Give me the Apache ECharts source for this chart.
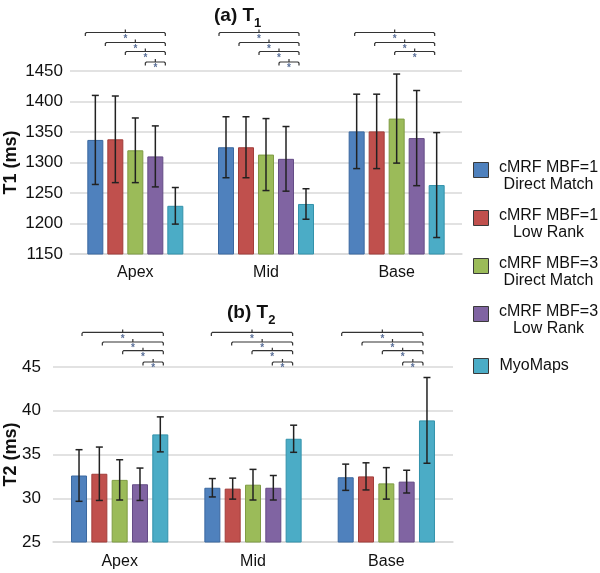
<!DOCTYPE html>
<html>
<head>
<meta charset="utf-8">
<script src="https://cdn.jsdelivr.net/npm/echarts@6/dist/echarts.min.js"></script>
<style>html,body{margin:0;padding:0;background:#fff}#c{width:600px;height:573px}</style>
</head>
<body>
<div id="c"></div>
<script>
// ---- data ----
const categories = ['Apex', 'Mid', 'Base'];
const seriesNames = ['cMRF MBF=1\nDirect Match', 'cMRF MBF=1\nLow Rank', 'cMRF MBF=3\nDirect Match', 'cMRF MBF=3\nLow Rank', 'MyoMaps'];
const t1Ticks = [1150, 1200, 1250, 1300, 1350, 1400, 1450];
const t2Ticks = [25, 30, 35, 40, 45];

const t1_mbf1_dm = [1337, 1325, 1351];
const t1_mbf1_lr = [1338, 1325, 1351];
const t1_mbf3_dm = [1320, 1313, 1372];
const t1_mbf3_lr = [1310, 1306, 1340];
const t1_myomaps = [1229, 1232, 1263];
const t1sd_mbf1_dm = [73, 50, 61];
const t1sd_mbf1_lr = [71, 50, 61];
const t1sd_mbf3_dm = [53, 59, 73];
const t1sd_mbf3_lr = [50, 53, 78];
const t1sd_myomaps = [30, 25, 86];

const t2_mbf1_dm = [32.6, 31.2, 32.4];
const t2_mbf1_lr = [32.8, 31.1, 32.5];
const t2_mbf3_dm = [32.1, 31.55, 31.7];
const t2_mbf3_lr = [31.6, 31.2, 31.9];
const t2_myomaps = [37.3, 36.8, 38.9];
const t2sd_mbf1_dm = [2.95, 1.05, 1.5];
const t2sd_mbf1_lr = [3.05, 1.2, 1.55];
const t2sd_mbf3_dm = [2.3, 1.75, 1.8];
const t2sd_mbf3_lr = [1.85, 1.4, 1.3];
const t2sd_myomaps = [2.0, 1.55, 4.9];

// significance comparisons: [categoryIndex, fromSeries, toSeries]
const t1Sig = [[0,0,4],[0,1,4],[0,2,4],[0,3,4],[1,0,4],[1,1,4],[1,2,4],[1,3,4],[2,0,4],[2,1,4],[2,2,4]];
const t2Sig = [[0,0,4],[0,1,4],[0,2,4],[0,3,4],[1,0,4],[1,1,4],[1,2,4],[1,3,4],[2,0,4],[2,1,4],[2,2,4],[2,3,4]];

// ---- styles ----
const FONT = '"Liberation Sans", Arial, sans-serif';
const fills = ['#4f81bd', '#c0504d', '#9bbb59', '#8064a2', '#4bacc6'];
const borders = ['#3a68a0', '#a23d3a', '#7f9c44', '#654c86', '#3392ab'];
const BW = 16;
const GAP = [0.25, 0.27];
const STEP = [BW * (1 + GAP[0]), BW * (1 + GAP[1])];
const bracketLevelY = [[-38.5, -28.5, -19.5, -9], [-34.6, -25, -16.3, -5]];
const bracketShift = [[-10, -7, -2], [3, -1, -4]];
const yMaxes = [1450, 45];

const means = [
  [t1_mbf1_dm, t1_mbf1_lr, t1_mbf3_dm, t1_mbf3_lr, t1_myomaps],
  [t2_mbf1_dm, t2_mbf1_lr, t2_mbf3_dm, t2_mbf3_lr, t2_myomaps]
];
const sds = [
  [t1sd_mbf1_dm, t1sd_mbf1_lr, t1sd_mbf3_dm, t1sd_mbf3_lr, t1sd_myomaps],
  [t2sd_mbf1_dm, t2sd_mbf1_lr, t2sd_mbf3_dm, t2sd_mbf3_lr, t2sd_myomaps]
];
const sigs = [t1Sig, t2Sig];

const series = [];
for (let g = 0; g < 2; g++) {
  for (let s = 0; s < 5; s++) {
    series.push({
      type: 'bar', name: seriesNames[s], xAxisIndex: g, yAxisIndex: g,
      data: means[g][s], barWidth: BW, barGap: (GAP[g] * 100) + '%',
      itemStyle: { color: fills[s], borderColor: borders[s], borderWidth: 1 },
      emphasis: { disabled: true }, silent: true
    });
  }
  const errData = [];
  for (let s = 0; s < 5; s++) {
    for (let c = 0; c < 3; c++) {
      errData.push([c, means[g][s][c] - sds[g][s][c], means[g][s][c] + sds[g][s][c], s]);
    }
  }
  series.push({
    type: 'custom', name: 'err' + g, xAxisIndex: g, yAxisIndex: g, silent: true, z: 5,
    encode: { x: 0, y: [1, 2] }, data: errData,
    renderItem: (function (gi) {
      return function (params, api) {
        const c = api.value(0), lo = api.value(1), hi = api.value(2), s = api.value(3);
        const pLo = api.coord([c, lo]), pHi = api.coord([c, hi]);
        const x = pLo[0] + (s - 2) * STEP[gi];
        const st = { stroke: '#222', lineWidth: 1.5 };
        const cw = 3.5;
        return { type: 'group', children: [
          { type: 'line', shape: { x1: x, y1: pHi[1], x2: x, y2: pLo[1] }, style: st },
          { type: 'line', shape: { x1: x - cw, y1: pHi[1], x2: x + cw, y2: pHi[1] }, style: st },
          { type: 'line', shape: { x1: x - cw, y1: pLo[1], x2: x + cw, y2: pLo[1] }, style: st }
        ]};
      };
    })(g)
  });
  const sigData = sigs[g].map(function (d) {
    return [d[0], yMaxes[g], d[1], d[2]];
  });
  series.push({
    type: 'custom', name: 'sig' + g, xAxisIndex: g, yAxisIndex: g, silent: true, clip: false, z: 6,
    encode: { x: 0, y: 1 }, data: sigData,
    renderItem: (function (gi) {
      return function (params, api) {
        const c = api.value(0), from = api.value(2), to = api.value(3);
        const p = api.coord([c, yMaxes[gi]]);
        const sh = bracketShift[gi][c];
        const x1 = p[0] + (from - 2) * STEP[gi] + sh;
        const x2 = p[0] + (to - 2) * STEP[gi] + sh;
        const y = p[1] + bracketLevelY[gi][from];
        const xm = (x1 + x2) / 2;
        const st = { stroke: '#333', lineWidth: 1.2, fill: null };
        return { type: 'group', children: [
          { type: 'polyline', shape: { points: [[x1, y + 3.5], [x1, y + 1], [x1 + 1, y], [x2 - 1, y], [x2, y + 1], [x2, y + 3.5]] }, style: st },
          { type: 'line', shape: { x1: xm, y1: y, x2: xm, y2: y - 3 }, style: st },
          { type: 'text', style: { text: '*', x: xm, y: y + 1.5, align: 'center', verticalAlign: 'top', fontSize: 10, fontWeight: 'bold', fill: '#5a6f98', fontFamily: FONT } }
        ]};
      };
    })(g)
  });
}

const legendRich = {
  a1: { width: 110, align: 'center', fontSize: 16, lineHeight: 29, verticalAlign: 'bottom', color: '#111', fontFamily: FONT },
  a2: { width: 110, align: 'center', fontSize: 16, lineHeight: 17, color: '#111', fontFamily: FONT }
};
const titleRich = {
  m: { fontSize: 19, fontWeight: 'bold', color: '#111', fontFamily: FONT, lineHeight: 22, verticalAlign: 'bottom', padding: [0, 0, 5, 0] },
  s: { fontSize: 13, fontWeight: 'bold', color: '#111', fontFamily: FONT, lineHeight: 15, verticalAlign: 'bottom' }
};

const option = {
  animation: false,
  textStyle: { fontFamily: FONT },
  title: [
    { text: '{m|(a) T}{s|1}', left: 214, top: 8, padding: 0, textStyle: { rich: titleRich } },
    { text: '{m|(b) T}{s|2}', left: 227, top: 305, padding: 0, textStyle: { rich: titleRich } }
  ],
  legend: [
    {
      orient: 'vertical', left: 473, top: 160, padding: 0, itemGap: 15.5,
      itemWidth: 15, itemHeight: 15, icon: 'rect', selectedMode: false,
      data: seriesNames.slice(0, 4),
      itemStyle: { borderColor: '#3a3a3a', borderWidth: 1 },
      formatter: function (n) { const p = n.split('\n'); return '{a1|' + p[0] + '}\n{a2|' + p[1] + '}'; },
      textStyle: { rich: legendRich }
    },
    {
      orient: 'vertical', left: 473, top: 358, padding: 0,
      itemWidth: 15, itemHeight: 15, icon: 'rect', selectedMode: false,
      data: [seriesNames[4]],
      itemStyle: { borderColor: '#3a3a3a', borderWidth: 1 },
      formatter: function (n) { return '{b|' + n + '}'; },
      textStyle: { rich: { b: { fontSize: 16, color: '#111', fontFamily: FONT, padding: [0, 0, 0, 6] } } }
    }
  ],
  grid: [
    { left: 70, right: 138, top: 71, height: 183, containLabel: false, outerBoundsMode: 'none' },
    { left: 53, right: 147, top: 367, height: 175, containLabel: false, outerBoundsMode: 'none' }
  ],
  xAxis: [0, 1].map(function (g) {
    return {
      type: 'category', gridIndex: g, data: categories,
      axisLine: { show: true, lineStyle: { color: '#d9d9d9', width: 1.5 } },
      axisTick: { show: false },
      axisLabel: { fontSize: 16, color: '#111', margin: g === 0 ? 11 : 12, fontFamily: FONT }
    };
  }),
  yAxis: [
    {
      type: 'value', gridIndex: 0, min: t1Ticks[0], max: t1Ticks[t1Ticks.length - 1], interval: 50,
      name: 'T1 (ms)', nameLocation: 'middle', nameGap: 50, nameMoveOverlap: false,
      nameTextStyle: { fontSize: 18, fontWeight: 'bold', color: '#111', fontFamily: FONT },
      axisLine: { show: false }, axisTick: { show: false },
      splitLine: { lineStyle: { color: '#d9d9d9', width: 1.5 } },
      axisLabel: { fontSize: 17, color: '#111', margin: 7, fontFamily: FONT, formatter: function (v) { return String(v); } }
    },
    {
      type: 'value', gridIndex: 1, min: t2Ticks[0], max: t2Ticks[t2Ticks.length - 1], interval: 5,
      name: 'T2 (ms)', nameLocation: 'middle', nameGap: 33, nameMoveOverlap: false,
      nameTextStyle: { fontSize: 18, fontWeight: 'bold', color: '#111', fontFamily: FONT },
      axisLine: { show: false }, axisTick: { show: false },
      splitLine: { lineStyle: { color: '#d9d9d9', width: 1.5 } },
      axisLabel: { fontSize: 17, color: '#111', margin: 12, fontFamily: FONT, formatter: function (v) { return String(v); } }
    }
  ],
  series: series
};

const chart = echarts.init(document.getElementById('c'), null, { renderer: 'canvas' });
chart.setOption(option);
</script>
</body>
</html>
